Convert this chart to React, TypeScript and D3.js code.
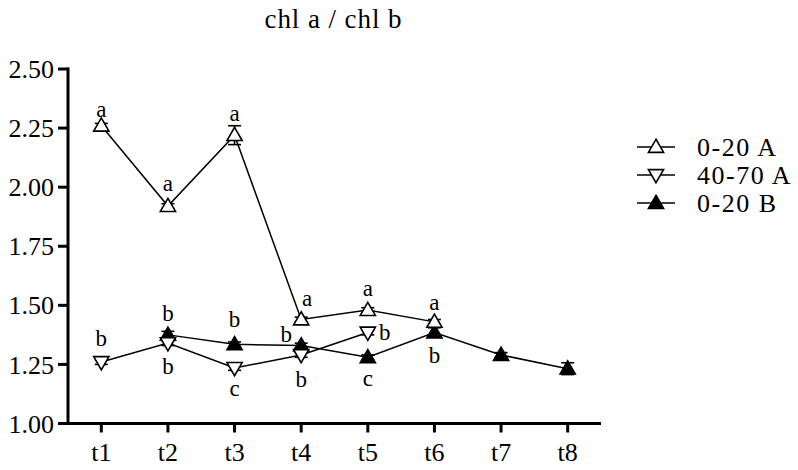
import React from 'react';
import * as d3 from 'd3';

const categories = ['t1', 't2', 't3', 't4', 't5', 't6', 't7', 't8'];
const yTicks = [1.0, 1.25, 1.5, 1.75, 2.0, 2.25, 2.5];

// 0-20 A (open up triangle)
const a020Values = [2.26, 1.92, 2.22, 1.44, 1.48, 1.43, null, null];
const a020Errors = [0.01, 0.01, 0.04, 0.01, 0.01, 0.01, 0, 0];
const a020Letters = ['a', 'a', 'a', 'a', 'a', 'a', '', ''];

// 40-70 A (open down triangle)
const a4070Values = [1.26, 1.34, 1.235, 1.29, 1.385, null, null, null];
const a4070Errors = [0.01, 0.01, 0.01, 0.01, 0.01, 0, 0, 0];
const a4070Letters = ['b', 'b', 'c', 'b', 'b', '', '', ''];

// 0-20 B (filled up triangle)
const b020Values = [null, 1.375, 1.335, 1.33, 1.28, 1.385, 1.29, 1.232];
const b020Errors = [0, 0.015, 0.01, 0.01, 0.01, 0.02, 0.01, 0.025];
const b020Letters = ['', 'b', 'b', 'b', 'c', 'b', '', ''];

// where each letter sits next to its point (px)
const letterOffsets: Record<string, [number, number][]> = {
  a020: [[0, -9], [0, -15], [0, -14], [6, -14], [0, -14], [0, -12], [0, 0], [0, 0]],
  a4070: [[0, -16], [0, 31], [0, 28], [0, 32], [17, 7], [0, 0], [0, 0], [0, 0]],
  b020: [[0, 0], [0, -14], [0, -17], [-15, -4], [0, 29], [0, 30], [0, 0], [0, 0]],
};

const W = 798;
const H = 470;
const margin = { left: 68, right: 197, top: 69, bottom: 46 };
const FONT = '"Liberation Serif", "Times New Roman", serif';

const series = [
  { key: 'b020', name: '0-20 B', values: b020Values, errors: b020Errors, letters: b020Letters, down: false, filled: true },
  { key: 'a4070', name: '40-70 A', values: a4070Values, errors: a4070Errors, letters: a4070Letters, down: true, filled: false },
  { key: 'a020', name: '0-20 A', values: a020Values, errors: a020Errors, letters: a020Letters, down: false, filled: false },
];
const legendOrder = ['a020', 'a4070', 'b020'];

export default function App() {
  const x = d3.scalePoint<string>()
    .domain(categories)
    .range([margin.left, W - margin.right])
    .padding(0.5);
  const y = d3.scaleLinear().domain([1.0, 2.5]).range([H - margin.bottom - 0.5, margin.top]);
  const x0 = margin.left;
  const x1 = W - margin.right;
  const yBase = y(1.0);

  const tri = d3.symbol().type(d3.symbolTriangle).size(100)();

  const line = d3.line<[string, number]>()
    .x(d => x(d[0]) as number)
    .y(d => y(d[1]));

  const marker = (s: typeof series[0], cx: number, cy: number, k: string) => (
    <path
      key={k}
      d={tri as string}
      transform={`translate(${cx},${cy + (s.down ? -1 : 1)})${s.down ? ' rotate(180)' : ''}`}
      fill={s.filled ? '#000' : '#fff'}
      stroke="#000"
      strokeWidth={1.6}
    />
  );

  return (
    <svg width={W} height={H} style={{ position: 'absolute', left: 0, top: 0, background: '#fff' }} fontFamily={FONT}>
      <text x={333} y={28} textAnchor="middle" fontSize={27} textLength={137} lengthAdjust="spacing" fill="#000">chl a / chl b</text>

      {/* y axis */}
      <line x1={x0} x2={x0} y1={y(2.5) - 1.5} y2={yBase + 1.5} stroke="#000" strokeWidth={3} />
      {yTicks.map(t => (
        <g key={t}>
          <line x1={x0 - 10} x2={x0} y1={y(t)} y2={y(t)} stroke="#000" strokeWidth={3} />
          <text x={x0 - 14} y={y(t)} dy="0.35em" textAnchor="end" fontSize={26} fill="#000">{t.toFixed(2)}</text>
        </g>
      ))}

      {/* x axis */}
      <line x1={x0 - 1.5} x2={x1} y1={yBase} y2={yBase} stroke="#000" strokeWidth={3} />
      {categories.map(c => (
        <g key={c}>
          <line x1={x(c)} x2={x(c)} y1={yBase} y2={yBase + 9} stroke="#000" strokeWidth={3} />
          <text x={x(c)} y={461} textAnchor="middle" fontSize={26} fill="#000">{c}</text>
        </g>
      ))}

      {/* series */}
      {series.map(s => {
        const pts = categories
          .map((c, i) => [c, s.values[i]] as [string, number | null])
          .filter(d => d[1] != null) as [string, number][];
        return (
          <g key={s.key}>
            <path d={line(pts) as string} fill="none" stroke="#000" strokeWidth={1.5} />
            {categories.map((c, i) => {
              const v = s.values[i];
              const e = s.errors[i];
              if (v == null || !e) return null;
              const cx = x(c) as number;
              return (
                <g key={c}>
                  <line x1={cx} x2={cx} y1={y(v - e)} y2={y(v + e)} stroke="#000" strokeWidth={1.6} />
                  <line x1={cx - 6.5} x2={cx + 6.5} y1={y(v + e)} y2={y(v + e)} stroke="#000" strokeWidth={1.6} />
                  <line x1={cx - 6.5} x2={cx + 6.5} y1={y(v - e)} y2={y(v - e)} stroke="#000" strokeWidth={1.6} />
                </g>
              );
            })}
            {categories.map((c, i) => {
              const v = s.values[i];
              if (v == null) return null;
              return marker(s, x(c) as number, y(v), c);
            })}
          </g>
        );
      })}

      {/* significance letters */}
      {series.map(s => (
        <g key={s.key + '-letters'}>
          {categories.map((c, i) => {
            const v = s.values[i];
            const l = s.letters[i];
            if (v == null || !l) return null;
            const [dx, dy] = letterOffsets[s.key][i];
            return (
              <text key={c} x={(x(c) as number) + dx} y={y(v) + dy} textAnchor="middle" fontSize={23} fill="#000">{l}</text>
            );
          })}
        </g>
      ))}

      {/* legend */}
      {legendOrder.map((k, i) => {
        const s = series.find(d => d.key === k)!;
        const ly = 147 + i * 28;
        return (
          <g key={k}>
            <line x1={637} x2={675} y1={ly} y2={ly} stroke="#000" strokeWidth={1.5} />
            {marker(s, 656, ly, 'm')}
            <text x={697} y={ly} dy="0.35em" fontSize={26} letterSpacing={1.5} fill="#000">{s.name}</text>
          </g>
        );
      })}
    </svg>
  );
}
